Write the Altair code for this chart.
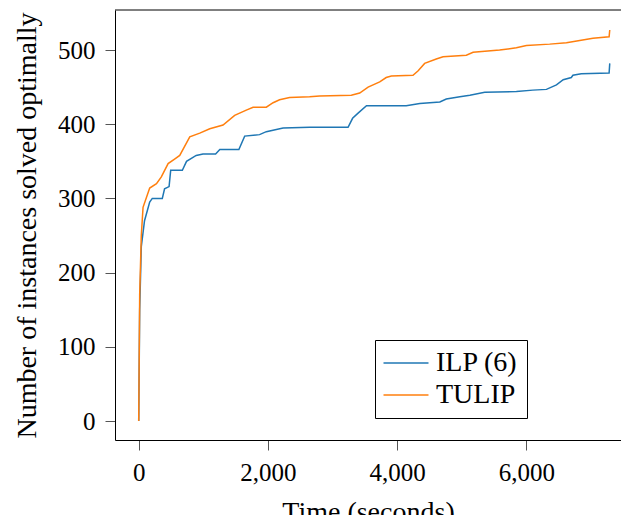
import altair as alt
import pandas as pd

series_names = ["ILP (6)", "TULIP"]
colors = ["#1f77b4", "#ff7f0e"]

ilp_t = [0, 15, 40, 90, 170, 210, 365, 400, 470, 495, 675, 740, 890, 995, 1190, 1255, 1550,
         1640, 1870, 1975, 2130, 2235, 2645, 3240, 3310, 3395, 3525, 4140, 4350, 4660, 4760,
         4970, 5125, 5355, 5845, 6100, 6310, 6465, 6570, 6695, 6720, 6850, 7280, 7290]
ilp_n = [0, 150, 235, 270, 295, 300, 300, 313, 316, 338, 338, 350, 358, 360, 360, 366, 366,
         384, 386, 390, 393, 395, 396, 396, 408, 415, 425, 425, 428, 430, 434,
         437, 439, 443, 444, 446, 447, 453, 460, 463, 466, 468, 469, 482]

tulip_t = [0, 15, 40, 67, 170, 275, 350, 455, 555, 635, 790, 945, 1100, 1305, 1485, 1665, 1770,
           1975, 2080, 2180, 2335, 2645, 2800, 3290, 3420, 3550, 3730, 3830, 3910, 4245, 4325,
           4425, 4605, 4710, 5070, 5175, 5585, 5845, 6000, 6360, 6620, 6825, 7030, 7280, 7290]
tulip_n = [0, 170, 250, 288, 314, 320, 329, 347, 353, 358, 383, 388, 394, 399, 412, 419, 423,
           423, 429, 433, 436, 437, 438, 439, 442, 450, 457, 463, 465, 466, 472,
           482, 488, 491, 493, 497, 500, 503, 506, 508, 510, 513, 516, 518, 527]

x_ticks = [0, 2000, 4000, 6000]
y_ticks = [0, 100, 200, 300, 400, 500]

rows = []
for i, (t, n) in enumerate(zip(ilp_t, ilp_n)):
    rows.append({"series": series_names[0], "t": t, "n": n, "order": i})
for i, (t, n) in enumerate(zip(tulip_t, tulip_n)):
    rows.append({"series": series_names[1], "t": t, "n": n, "order": i})
df = pd.DataFrame(rows)

FONT = "Liberation Serif"
W, H = 506, 430

lines = alt.Chart(df).mark_line(strokeWidth=1.5, clip=True).encode(
    x=alt.X("t:Q", title="Time (seconds)",
            scale=alt.Scale(domain=[-367, 7464], nice=False, zero=False),
            axis=alt.Axis(values=x_ticks, format=",.0f", grid=False, tickSize=10,
                          tickColor="#555", domainColor="black", labelPadding=10,
                          titlePadding=13, labelFlush=False)),
    y=alt.Y("n:Q", title="Number of instances solved optimally",
            scale=alt.Scale(domain=[-25.6, 554], nice=False, zero=False),
            axis=alt.Axis(values=y_ticks, grid=False, tickSize=10, tickColor="#555",
                          domainColor="black", labelPadding=10, titlePadding=16,
                          labelFlush=False)),
    color=alt.Color("series:N",
                    scale=alt.Scale(domain=series_names, range=colors),
                    legend=alt.Legend(title=None, orient="none", legendX=260, legendY=330,
                                      symbolType="M-2,0L2,0", symbolSize=506,
                                      symbolOffset=8,
                                      symbolStrokeWidth=1.5, symbolFillColor="transparent",
                                      labelFontSize=28,
                                      labelFont=FONT, strokeColor="black",
                                      fillColor="white", padding=9, rowPadding=4,
                                      labelOffset=16, cornerRadius=0)),
    order="order:Q",
)

top_line = alt.Chart(pd.DataFrame({"a": [0]})).mark_rule(color="black", strokeWidth=1).encode(
    x=alt.value(0), x2=alt.value(W), y=alt.value(0)
)

chart = alt.layer(lines, top_line).properties(
    width=W, height=H,
    autosize=alt.AutoSizeParams(type="none"),
    padding={"left": 107, "top": 2, "right": 0, "bottom": 75},
).configure_view(stroke=None).configure_axis(
    labelFont=FONT, titleFont=FONT, labelFontSize=25, titleFontSize=28,
    labelColor="black", titleColor="black", titleFontWeight="normal",
)

chart.save("out.html", embed_options={"renderer": "svg", "actions": False})
